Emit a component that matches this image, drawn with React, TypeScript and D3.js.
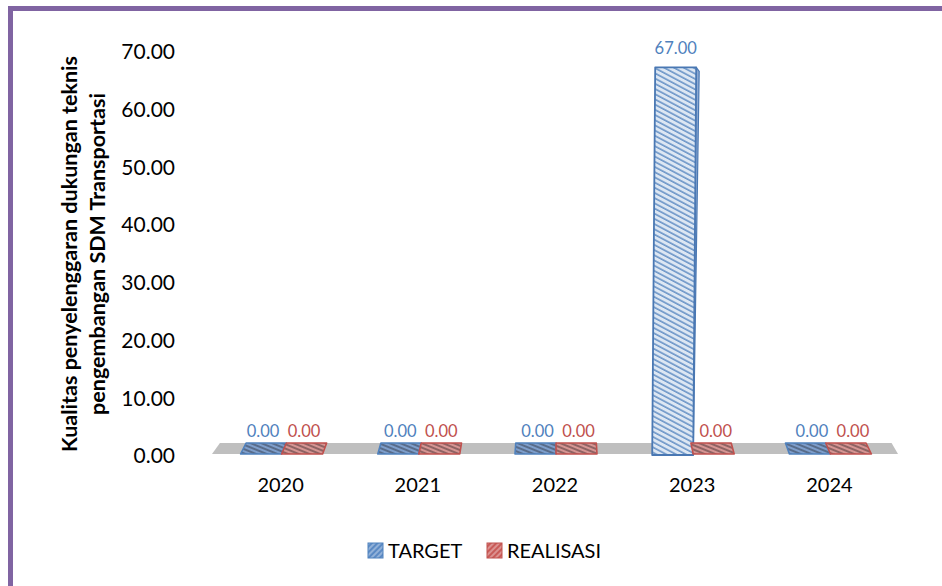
import React from "react";
import * as d3 from "d3";

const categories = ["2020", "2021", "2022", "2023", "2024"];
const targetValues = [0, 0, 0, 67, 0];
const realisasiValues = [0, 0, 0, 0, 0];
const yTicks = [0, 10, 20, 30, 40, 50, 60, 70];
const seriesNames = ["TARGET", "REALISASI"];
const titleLines = ["Kualitas penyelenggaran dukungan teknis", "pengembangan SDM Transportasi"];

const W = 942;
const H = 586;
const FONT = "Lato, 'Open Sans', sans-serif";

const BLUE = "#4F81BD";
const RED = "#C0504D";

export default function App() {
  const x = d3.scaleBand<string>().domain(categories).range([212, 898]).padding(0);
  const y = d3.scaleLinear().domain([0, 70]).range([454, 50]);
  const barW = 41;
  const floorY = y(0);
  const depth = 11;
  const vx = 560;
  const f = 0.019;
  const shift = (xx: number) => (vx - xx) * f;

  const floorPts = [
    [212, floorY],
    [898, floorY],
    [898 + shift(898) * 1.0, floorY - depth],
    [212 + shift(212) * 1.2, floorY - depth],
  ];

  const bars: any[] = [];
  categories.forEach((c, i) => {
    const cx = (x(c) as number) + x.bandwidth() / 2 + 1;
    [targetValues[i], realisasiValues[i]].forEach((v, s) => {
      const x0 = s === 0 ? cx - barW : cx;
      const x1 = x0 + barW;
      bars.push({ c, s, v, x0, x1 });
    });
  });

  const fmt = d3.format(".2f");

  return (
    <svg width={W} height={H} style={{ position: "absolute", left: 0, top: 0, background: "#fff" }} fontFamily={FONT}>
      <defs>
        <pattern id="tallBlue" width="6" height="4.6" patternUnits="userSpaceOnUse" patternTransform="rotate(28)">
          <rect width="6" height="4.6" fill="#DDE7F3" />
          <line x1="0" y1="1" x2="6" y2="1" stroke="#4F81BD" strokeWidth="1.3" />
        </pattern>
        <pattern id="flatBlue" width="6" height="4" patternUnits="userSpaceOnUse" patternTransform="rotate(22)">
          <rect width="6" height="4" fill="#7E9ECB" />
          <line x1="0" y1="1" x2="6" y2="1" stroke="#3F4B5E" strokeWidth="1.2" />
        </pattern>
        <pattern id="flatRed" width="6" height="4" patternUnits="userSpaceOnUse" patternTransform="rotate(22)">
          <rect width="6" height="4" fill="#D69593" />
          <line x1="0" y1="1" x2="6" y2="1" stroke="#5E4242" strokeWidth="1.2" />
        </pattern>
        <pattern id="legBlue" width="4" height="4" patternUnits="userSpaceOnUse" patternTransform="rotate(-45)">
          <rect width="4" height="4" fill="#5B8AC4" />
          <line x1="0" y1="1" x2="4" y2="1" stroke="#C9D8EC" strokeWidth="1" />
        </pattern>
        <pattern id="legRed" width="4" height="4" patternUnits="userSpaceOnUse" patternTransform="rotate(-45)">
          <rect width="4" height="4" fill="#C95A57" />
          <line x1="0" y1="1" x2="4" y2="1" stroke="#EDC9C8" strokeWidth="1" />
        </pattern>
      </defs>

      {/* border */}
      <rect x={10.5} y={8.5} width={W + 20} height={H + 20} fill="none" stroke="#8064A2" strokeWidth={5} />

      {/* floor */}
      <polygon points={floorPts.map((p) => p.join(",")).join(" ")} fill="#BFBFBF" />

      {/* bars */}
      {bars.map((b, i) => {
        const color = b.s === 0 ? BLUE : RED;
        if (b.v === 0) {
          const pts = [
            [b.x0, floorY],
            [b.x1, floorY],
            [b.x1 + shift(b.x1) * 0.9, floorY - depth],
            [b.x0 + shift(b.x0) * 0.9, floorY - depth],
          ];
          return (
            <polygon
              key={i}
              points={pts.map((p) => p.join(",")).join(" ")}
              fill={b.s === 0 ? "url(#flatBlue)" : "url(#flatRed)"}
              stroke={color}
              strokeWidth={1.6}
              strokeLinejoin="round"
            />
          );
        }
        const yt = y(b.v);
        const lean = 3;
        const front = [
          [b.x0, floorY + 1],
          [b.x1, floorY + 1],
          [b.x1 + lean, yt],
          [b.x0 + lean, yt],
        ];
        const side = [
          [b.x1, floorY + 1],
          [b.x1 + lean + 3, yt + 4],
          [b.x1 + lean, yt],
        ];
        return (
          <g key={i}>
            <polygon points={side.map((p) => p.join(",")).join(" ")} fill="#8EAAD2" stroke="#4A78B3" strokeWidth={1.2} strokeLinejoin="round" />
            <polygon
              points={front.map((p) => p.join(",")).join(" ")}
              fill="url(#tallBlue)"
              stroke="#4A78B3"
              strokeWidth={1.8}
              strokeLinejoin="round"
            />
          </g>
        );
      })}

      {/* value labels */}
      {bars.map((b, i) => {
        const cxm = (b.x0 + b.x1) / 2 + (b.v === 0 ? 2 : 3);
        const base = b.v === 0 ? floorY - depth - 6 : y(b.v) - 13;
        return (
          <text key={"l" + i} x={cxm} y={base} textAnchor="middle" fontSize={16.5} fill={b.s === 0 ? BLUE : RED}>
            {fmt(b.v)}
          </text>
        );
      })}

      {/* y tick labels */}
      {yTicks.map((t) => (
        <text key={t} x={175} y={y(t) + 4} textAnchor="end" dominantBaseline="middle" fontSize={21} fill="#000">
          {fmt(t)}
        </text>
      ))}

      {/* x labels */}
      {categories.map((c) => (
        <text key={c} x={(x(c) as number) + x.bandwidth() / 2} y={492} textAnchor="middle" fontSize={20} fill="#000">
          {c}
        </text>
      ))}

      {/* axis title */}
      <g transform="translate(84,254) rotate(-90)">
        {titleLines.map((l, i) => (
          <text key={i} x={0} y={-7 + i * 28} textAnchor="middle" fontSize={21.5} fontWeight="bold" fill="#000">
            {l}
          </text>
        ))}
      </g>

      {/* legend */}
      {seriesNames.map((n, i) => {
        const lx = i === 0 ? 368 : 487;
        return (
          <g key={n}>
            <rect x={lx} y={543} width={15} height={15} fill={i === 0 ? "url(#legBlue)" : "url(#legRed)"} stroke={i === 0 ? BLUE : RED} strokeWidth={1} />
            <text x={lx + 20} y={558} fontSize={20} fill="#000">
              {n}
            </text>
          </g>
        );
      })}
    </svg>
  );
}
